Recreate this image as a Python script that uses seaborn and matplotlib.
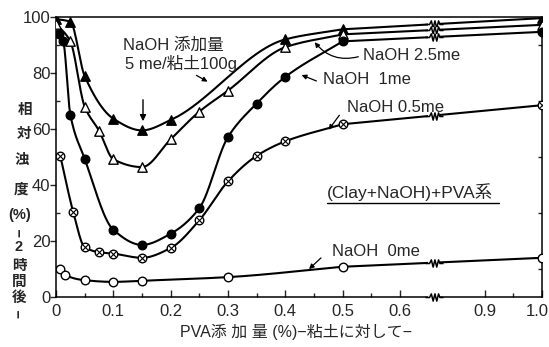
import numpy as np
import pandas as pd
import matplotlib
matplotlib.use("Agg")
import matplotlib.pyplot as plt
import matplotlib.transforms as mtransforms
import seaborn as sns
from matplotlib.path import Path
from matplotlib.lines import Line2D

# PVA dose (% on clay) and relative turbidity (%) after 2 h, per NaOH level
pva_5 = [0, 0.025, 0.05, 0.1, 0.15, 0.2, 0.4, 0.5, 1.0]
turb_5 = [99.3, 98.3, 78.9, 63.7, 59.5, 63.2, 92.0, 95.6, 99.6]

pva_25 = [0, 0.025, 0.05, 0.075, 0.1, 0.15, 0.2, 0.25, 0.3, 0.4, 0.5, 1.0]
turb_25 = [97.6, 91.3, 68.0, 59.4, 49.2, 46.4, 56.3, 66.2, 73.7, 89.2, 93.8, 97.2]

pva_1 = [0.005, 0.0125, 0.025, 0.05, 0.1, 0.15, 0.2, 0.25, 0.3, 0.35, 0.4, 0.5, 1.0]
turb_1 = [94.0, 91.5, 65.1, 49.4, 24.0, 18.6, 22.6, 31.7, 57.1, 69.1, 78.6, 91.3, 94.7]

pva_05 = [0.0075, 0.03, 0.05, 0.075, 0.1, 0.15, 0.2, 0.25, 0.3, 0.35, 0.4, 0.5, 1.0]
turb_05 = [50.4, 30.4, 17.8, 16.0, 15.5, 14.0, 17.5, 27.4, 41.3, 50.4, 55.6, 61.7, 68.5]

pva_0 = [0.0075, 0.015, 0.05, 0.1, 0.15, 0.3, 0.5, 1.0]
turb_0 = [10.0, 8.0, 6.0, 5.4, 5.8, 7.1, 10.8, 14.0]

x_ticks = [0, 0.1, 0.2, 0.3, 0.4, 0.5, 0.6, 0.9, 1.0]
x_ticklabels = ["0", "0.1", "0.2", "0.3", "0.4", "0.5", "0.6", "0.9", "1.0"]
y_ticks = [0, 20, 40, 60, 80, 100]

# broken x axis: 0.6-0.9 compressed
def fwd(x):
    x = np.asarray(x, dtype=float)
    return np.where(x <= 0.6, x, np.where(x >= 0.9, x - 0.152, 0.6 + (x - 0.6) * 0.4933))

def inv(u):
    u = np.asarray(u, dtype=float)
    return np.where(u <= 0.6, u, np.where(u >= 0.748, u + 0.152, 0.6 + (u - 0.6) / 0.4933))


def pchip(x, y, xs):
    x = np.asarray(x, float); y = np.asarray(y, float)
    h = np.diff(x); d = np.diff(y) / h
    n = len(x); m = np.zeros(n)
    m[0], m[-1] = d[0], d[-1]
    for k in range(1, n - 1):
        if d[k - 1] * d[k] <= 0:
            m[k] = 0.0
        else:
            w1 = 2 * h[k] + h[k - 1]; w2 = h[k] + 2 * h[k - 1]
            m[k] = (w1 + w2) / (w1 / d[k - 1] + w2 / d[k])
    idx = np.clip(np.searchsorted(x, xs) - 1, 0, n - 2)
    t = (xs - x[idx]) / h[idx]
    h00 = 2 * t**3 - 3 * t**2 + 1; h10 = t**3 - 2 * t**2 + t
    h01 = -2 * t**3 + 3 * t**2; h11 = t**3 - t**2
    return h00 * y[idx] + h10 * h[idx] * m[idx] + h01 * y[idx + 1] + h11 * h[idx] * m[idx + 1]


series = [
    ("5me", pva_5, turb_5, "^", "black"),
    ("2.5me", pva_25, turb_25, "^", "white"),
    ("1me", pva_1, turb_1, "o", "black"),
    ("0.5me", pva_05, turb_05, "o", "white"),
    ("0me", pva_0, turb_0, "o", "white"),
]

frames = []
for name, xs, ys, _, _ in series:
    xs = np.asarray(xs); ys = np.asarray(ys)
    smooth = xs <= 0.5
    xd = np.linspace(xs[smooth][0], xs[smooth][-1], 300)
    yd = pchip(xs[smooth], ys[smooth], xd)
    xd = np.append(xd, xs[~smooth]); yd = np.append(yd, ys[~smooth])
    frames.append(pd.DataFrame({"pva": xd, "turb": yd, "series": name}))
curves = pd.concat(frames, ignore_index=True)

sns.set_style("ticks")
mixed = ["Liberation Sans", "Noto Sans CJK JP", "DejaVu Sans"]
plt.rcParams["font.family"] = mixed
plt.rcParams["axes.linewidth"] = 1.1

W, H = 549, 347
fig = plt.figure(figsize=(W / 100, H / 100), dpi=100)
ax = fig.add_axes([56 / W, 50 / H, 486 / W, 280 / H])
ax.set_xscale("function", functions=(fwd, inv))
ax.set_xlim(0, 1.0)
ax.set_ylim(0, 100)

sns.lineplot(data=curves, x="pva", y="turb", units="series", estimator=None,
             sort=False, color="black", lw=1.5, ax=ax, legend=False)

for name, xs, ys, mk, fc in series:
    size = 46 if mk == "^" else 38
    sns.scatterplot(x=xs, y=ys, marker=mk, s=size, facecolor=fc, edgecolor="black",
                    linewidth=1.0, ax=ax, zorder=4, legend=False)
    if name == "0.5me":
        sns.scatterplot(x=xs, y=ys, marker="x", s=14, color="black",
                        linewidth=0.8, ax=ax, zorder=5, legend=False)

# zigzag break marks on each line and on the bottom axis
zig = Path([(-1, 0), (-0.55, 0), (-0.35, 0.4), (-0.15, -0.4), (0.05, 0.4),
            (0.25, -0.4), (0.45, 0.4), (0.6, 0), (1, 0)])
xb = 0.72
for name, xs, ys, _, _ in series:
    yb = np.interp(fwd(xb), fwd([xs[-2], xs[-1]]), [ys[-2], ys[-1]])
    ax.plot([xb], [yb], marker="_", ms=9, mew=4, color="white", zorder=3)
    ax.plot([xb], [yb], marker=zig, ms=13, mew=1.1, mfc="none", mec="black", zorder=3)
ax.plot([xb], [0], marker="_", ms=9, mew=4, color="white", zorder=6, clip_on=False)
ax.plot([xb], [0], marker=zig, ms=13, mew=1.1, mfc="none", mec="black", zorder=6, clip_on=False)

ax.set_xticks(x_ticks)
ax.set_xticklabels(x_ticklabels)
ax.set_xticks([0.05, 0.15, 0.25, 0.35, 0.45, 0.55, 0.95], minor=True)
ax.set_yticks(y_ticks)
ax.set_yticklabels([str(v) for v in y_ticks])
ax.set_yticks([10, 30, 50, 70, 90], minor=True)
ax.tick_params(axis="x", which="major", direction="in", length=5, width=1, pad=5, labelsize=12)
ax.tick_params(axis="x", which="minor", direction="in", length=3, width=1)
ax.tick_params(axis="y", which="major", direction="out", length=4, width=1, pad=0, labelsize=12)
ax.tick_params(axis="y", which="minor", direction="in", length=3, width=1, right=True)
ax.set_xlabel(""); ax.set_ylabel("")
for s in ax.spines.values():
    s.set_visible(True); s.set_linewidth(1.1); s.set_color("black")

# keep the last x tick label inside the figure edge
last = ax.get_xticklabels()[-1]
last.set_ha("right")
last.set_transform(last.get_transform() +
                   mtransforms.ScaledTranslation(7 / 100, 0, fig.dpi_scale_trans))


def fp(x, y):
    return (x / W, 1 - y / H)

# vertical y-axis title
ylab = [("相", 25, 110), ("対", 24, 134), ("浊", 22, 160), ("度", 21, 190), ("(%)", 20, 215),
        ("−", 20, 233), ("2", 19, 247), ("時", 19, 266), ("間", 19, 282), ("後", 19, 298),
        ("−", 19, 314)]
for ch, x, y in ylab:
    rot = 90 if ch == "−" else 0
    fig.text(*fp(x, y), ch, ha="center", va="center", fontsize=10.5, fontweight="bold",
             family=mixed, rotation=rot)

fig.text(*fp(296, 332), "PVA添 加 量 (%)−粘土に対して−", ha="center", va="center",
         fontsize=11.5, family=mixed)

fig.text(*fp(123, 45), "NaOH 添加量", ha="left", va="center", fontsize=12, family=mixed)
fig.text(*fp(125, 64), "5 me/粘土100g", ha="left", va="center", fontsize=12, family=mixed)
ax.annotate("", xy=fp(210, 83), xycoords="figure fraction", xytext=fp(194, 74),
            textcoords="figure fraction",
            arrowprops=dict(arrowstyle="-|>", lw=0.9, color="black", mutation_scale=7))
ax.annotate("", xy=fp(143, 124), xycoords="figure fraction", xytext=fp(143, 97),
            textcoords="figure fraction",
            arrowprops=dict(arrowstyle="-|>", lw=1.0, color="black", mutation_scale=9))

labels = [
    ("NaOH 2.5me", (363, 55), (361, 56), (313, 40), "arc3,rad=-0.35"),
    ("NaOH  1me", (323, 80), (319, 82), (299, 74), "arc3,rad=0"),
    ("NaOH 0.5me", (347, 107), (341, 113), (327, 132), "arc3,rad=0"),
    ("NaOH  0me", (332, 251), (323, 256), (307, 271), "arc3,rad=0"),
]
for txt, tp, tail, head, cs in labels:
    fig.text(*fp(*tp), txt, ha="left", va="center", fontsize=12, family=mixed)
    ax.annotate("", xy=fp(*head), xycoords="figure fraction", xytext=fp(*tail),
                textcoords="figure fraction",
                arrowprops=dict(arrowstyle="-|>", lw=0.9, color="black", mutation_scale=7,
                                connectionstyle=cs))

fig.text(*fp(327, 192), "(Clay+NaOH)+PVA系", ha="left", va="center", fontsize=12.5, family=mixed)
fig.add_artist(Line2D([327 / W, 499 / W], [1 - 203 / H, 1 - 203 / H], color="black", lw=1.0))

fig.savefig("out.png", dpi=100, facecolor="white")
